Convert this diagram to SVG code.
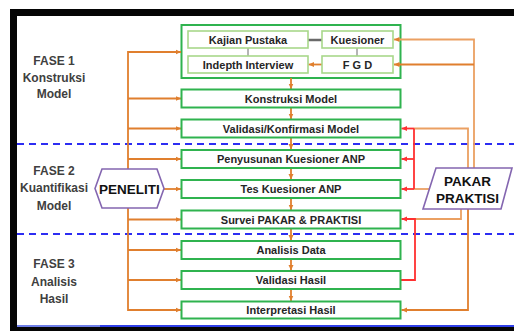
<svg xmlns="http://www.w3.org/2000/svg" width="514" height="331" viewBox="0 0 514 331">
  <style>
    .box { fill: #ffffff; stroke: #2fb34f; stroke-width: 2; }
    .inner { fill: #ffffff; stroke: #a8d88a; stroke-width: 1.6; }
    .lbl { font-family: "Liberation Sans", Arial, sans-serif; font-weight: bold; font-size: 11px; fill: #262626; text-anchor: middle; }
    .phase { font-family: "Liberation Sans", Arial, sans-serif; font-weight: bold; font-size: 12px; fill: #404040; text-anchor: middle; }
    .actor { font-family: "Liberation Sans", Arial, sans-serif; font-weight: bold; font-size: 13.5px; fill: #111111; text-anchor: middle; }
    .or { fill: none; stroke: #e07f2e; stroke-width: 1.8; }
    .orl { fill: none; stroke: #eba062; stroke-width: 1.8; }
    .rd { fill: none; stroke: #ff3030; stroke-width: 1.8; }
    .gr { fill: none; stroke: #6a6a6a; }
    .dash { fill: none; stroke: #2d2df2; stroke-width: 2; stroke-dasharray: 7 5; }
  </style>
  <defs>
    <marker id="ao" markerUnits="userSpaceOnUse" markerWidth="6" markerHeight="6" refX="5.5" refY="3" orient="auto">
      <path d="M0,0.5 L5.5,3 L0,5.5 z" fill="#e07f2e"/>
    </marker>
    <marker id="ar" markerUnits="userSpaceOnUse" markerWidth="6" markerHeight="6" refX="5.5" refY="3" orient="auto">
      <path d="M0,0.5 L5.5,3 L0,5.5 z" fill="#ff3030"/>
    </marker>
  </defs>

  <!-- frame -->
  <rect x="0" y="0" width="514" height="331" fill="#ffffff"/>
  <rect x="10" y="9" width="504" height="7" fill="#050505"/>
  <rect x="10" y="9" width="7" height="322" fill="#050505"/>
  <rect x="10" y="325" width="504" height="6" fill="#050505"/>
  <rect x="17" y="325" width="83" height="2" fill="#6f7fe8"/>
  <rect x="100" y="325" width="414" height="2" fill="#2f3fe8"/>

  <!-- phase separators -->
  <line class="dash" x1="17" y1="144" x2="514" y2="144"/>
  <line class="dash" x1="17" y1="234" x2="514" y2="234"/>

  <!-- phase labels -->
  <g id="fase1">
    <text class="phase" x="54" y="65">FASE 1</text>
    <text class="phase" x="54" y="81.5">Konstruksi</text>
    <text class="phase" x="54" y="98">Model</text>
  </g>
  <g id="fase2">
    <text class="phase" x="54" y="175">FASE 2</text>
    <text class="phase" x="54" y="192">Kuantifikasi</text>
    <text class="phase" x="54" y="209.5">Model</text>
  </g>
  <g id="fase3">
    <text class="phase" x="54" y="268">FASE 3</text>
    <text class="phase" x="54" y="285.5">Analisis</text>
    <text class="phase" x="54" y="303">Hasil</text>
  </g>

  <!-- literature / data collection block (container drawn under its links) -->
  <g id="sumber">
    <rect class="box" x="181.5" y="25" width="219" height="53"/>
  </g>

  <!-- connectors -->
  <g id="connectors">
    <!-- researcher bus -->
    <path class="or" d="M128,169 V52 H181" marker-end="url(#ao)"/>
    <path class="or" d="M128,98.5 H181" marker-end="url(#ao)"/>
    <path class="or" d="M128,128.5 H181" marker-end="url(#ao)"/>
    <path class="or" d="M128,159 H181" marker-end="url(#ao)"/>
    <path class="or" d="M164,189 H181" marker-end="url(#ao)"/>
    <path class="or" d="M128,208 V310 H181" marker-end="url(#ao)"/>
    <path class="or" d="M128,219.5 H181" marker-end="url(#ao)"/>
    <path class="or" d="M128,250 H181" marker-end="url(#ao)"/>
    <path class="or" d="M128,280 H181" marker-end="url(#ao)"/>

    <!-- main flow -->
    <path class="or" d="M291,78 V89" marker-end="url(#ao)"/>
    <path class="or" d="M291,108 V119" marker-end="url(#ao)"/>
    <path class="or" d="M291,138 V149.5" marker-end="url(#ao)"/>
    <path class="or" d="M291,168 V179.5" marker-end="url(#ao)"/>
    <path class="or" d="M291,198 V210" marker-end="url(#ao)"/>
    <path class="or" d="M291,229 V240.5" marker-end="url(#ao)"/>
    <path class="or" d="M291,259 V270.5" marker-end="url(#ao)"/>
    <path class="or" d="M291,289 V301" marker-end="url(#ao)"/>

    <!-- links inside the literature block -->
    <path class="gr" d="M308,40 H322" stroke-width="2.5"/>
    <path class="gr" d="M248,48 V56" stroke-width="1"/>
    <path class="gr" d="M357,48 V56" stroke-width="1"/>
    <path class="or" d="M322,64.5 H308.5" marker-end="url(#ao)"/>

    <!-- expert / practitioner feeds -->
    <path class="orl" d="M474,168 V39.5 H394" marker-end="url(#ao)"/>
    <path class="or" d="M474,64.5 H394" marker-end="url(#ao)"/>
    <path class="orl" d="M468,168 V128.5 H414"/>
    <path class="orl" d="M429,189 H414"/>
    <path class="orl" d="M461,209 V219 H415"/>
    <path class="or" d="M468,209 V310 H401.5" marker-end="url(#ao)"/>

    <!-- validation feedback -->
    <path class="rd" d="M414,128.5 V189"/>
    <path class="rd" d="M414,128.5 H401.5" marker-end="url(#ar)"/>
    <path class="rd" d="M414,159 H401.5" marker-end="url(#ar)"/>
    <path class="rd" d="M414,189 H401.5" marker-end="url(#ar)"/>
    <path class="rd" d="M401,280 H415 V219 H401.5" marker-end="url(#ar)"/>
  </g>

  <g id="kajian-pustaka">
    <rect class="inner" x="188" y="31" width="120" height="17"/>
    <text class="lbl" x="248" y="43.5">Kajian Pustaka</text>
  </g>
  <g id="indepth-interview">
    <rect class="inner" x="188" y="56" width="120" height="17"/>
    <text class="lbl" x="248" y="68.5">Indepth Interview</text>
  </g>
  <g id="kuesioner">
    <rect class="inner" x="322" y="31" width="71" height="17"/>
    <text class="lbl" x="357.5" y="43.5">Kuesioner</text>
  </g>
  <g id="fgd">
    <rect class="inner" x="322" y="56" width="71" height="17"/>
    <text class="lbl" x="357.5" y="68.5">F G D</text>
  </g>

  <!-- process steps -->
  <g id="konstruksi-model">
    <rect class="box" x="181.5" y="89.5" width="219" height="18"/>
    <text class="lbl" x="291" y="102.5">Konstruksi Model</text>
  </g>
  <g id="validasi-konfirmasi">
    <rect class="box" x="181.5" y="119.5" width="219" height="18"/>
    <text class="lbl" x="291" y="132.5">Validasi/Konfirmasi Model</text>
  </g>
  <g id="penyusunan-kuesioner">
    <rect class="box" x="181.5" y="150" width="219" height="18"/>
    <text class="lbl" x="291" y="163">Penyusunan Kuesioner ANP</text>
  </g>
  <g id="tes-kuesioner">
    <rect class="box" x="181.5" y="180" width="219" height="18"/>
    <text class="lbl" x="291" y="193">Tes Kuesioner ANP</text>
  </g>
  <g id="survei">
    <rect class="box" x="181.5" y="210.5" width="219" height="18"/>
    <text class="lbl" x="291" y="223.5">Survei PAKAR &amp; PRAKTISI</text>
  </g>
  <g id="analisis-data">
    <rect class="box" x="181.5" y="241" width="219" height="18"/>
    <text class="lbl" x="291" y="254">Analisis Data</text>
  </g>
  <g id="validasi-hasil">
    <rect class="box" x="181.5" y="271" width="219" height="18"/>
    <text class="lbl" x="291" y="284">Validasi Hasil</text>
  </g>
  <g id="interpretasi-hasil">
    <rect class="box" x="181.5" y="301.5" width="219" height="17"/>
    <text class="lbl" x="291" y="314">Interpretasi Hasil</text>
  </g>

  <!-- actors -->
  <g id="peneliti">
    <polygon points="95,188.5 102,169 157,169 164,188.5 157,208 102,208" fill="#ffffff" stroke="#8466b0" stroke-width="1.6"/>
    <text class="actor" x="129.5" y="193.5" font-size="14">PENELITI</text>
  </g>
  <g id="pakar-praktisi">
    <polygon points="436,168 512,168 501,209 423,209" fill="#ffffff" stroke="#8466b0" stroke-width="1.6"/>
    <text class="actor" x="467.5" y="186">PAKAR</text>
    <text class="actor" x="467.5" y="202.5">PRAKTISI</text>
  </g>
</svg>
